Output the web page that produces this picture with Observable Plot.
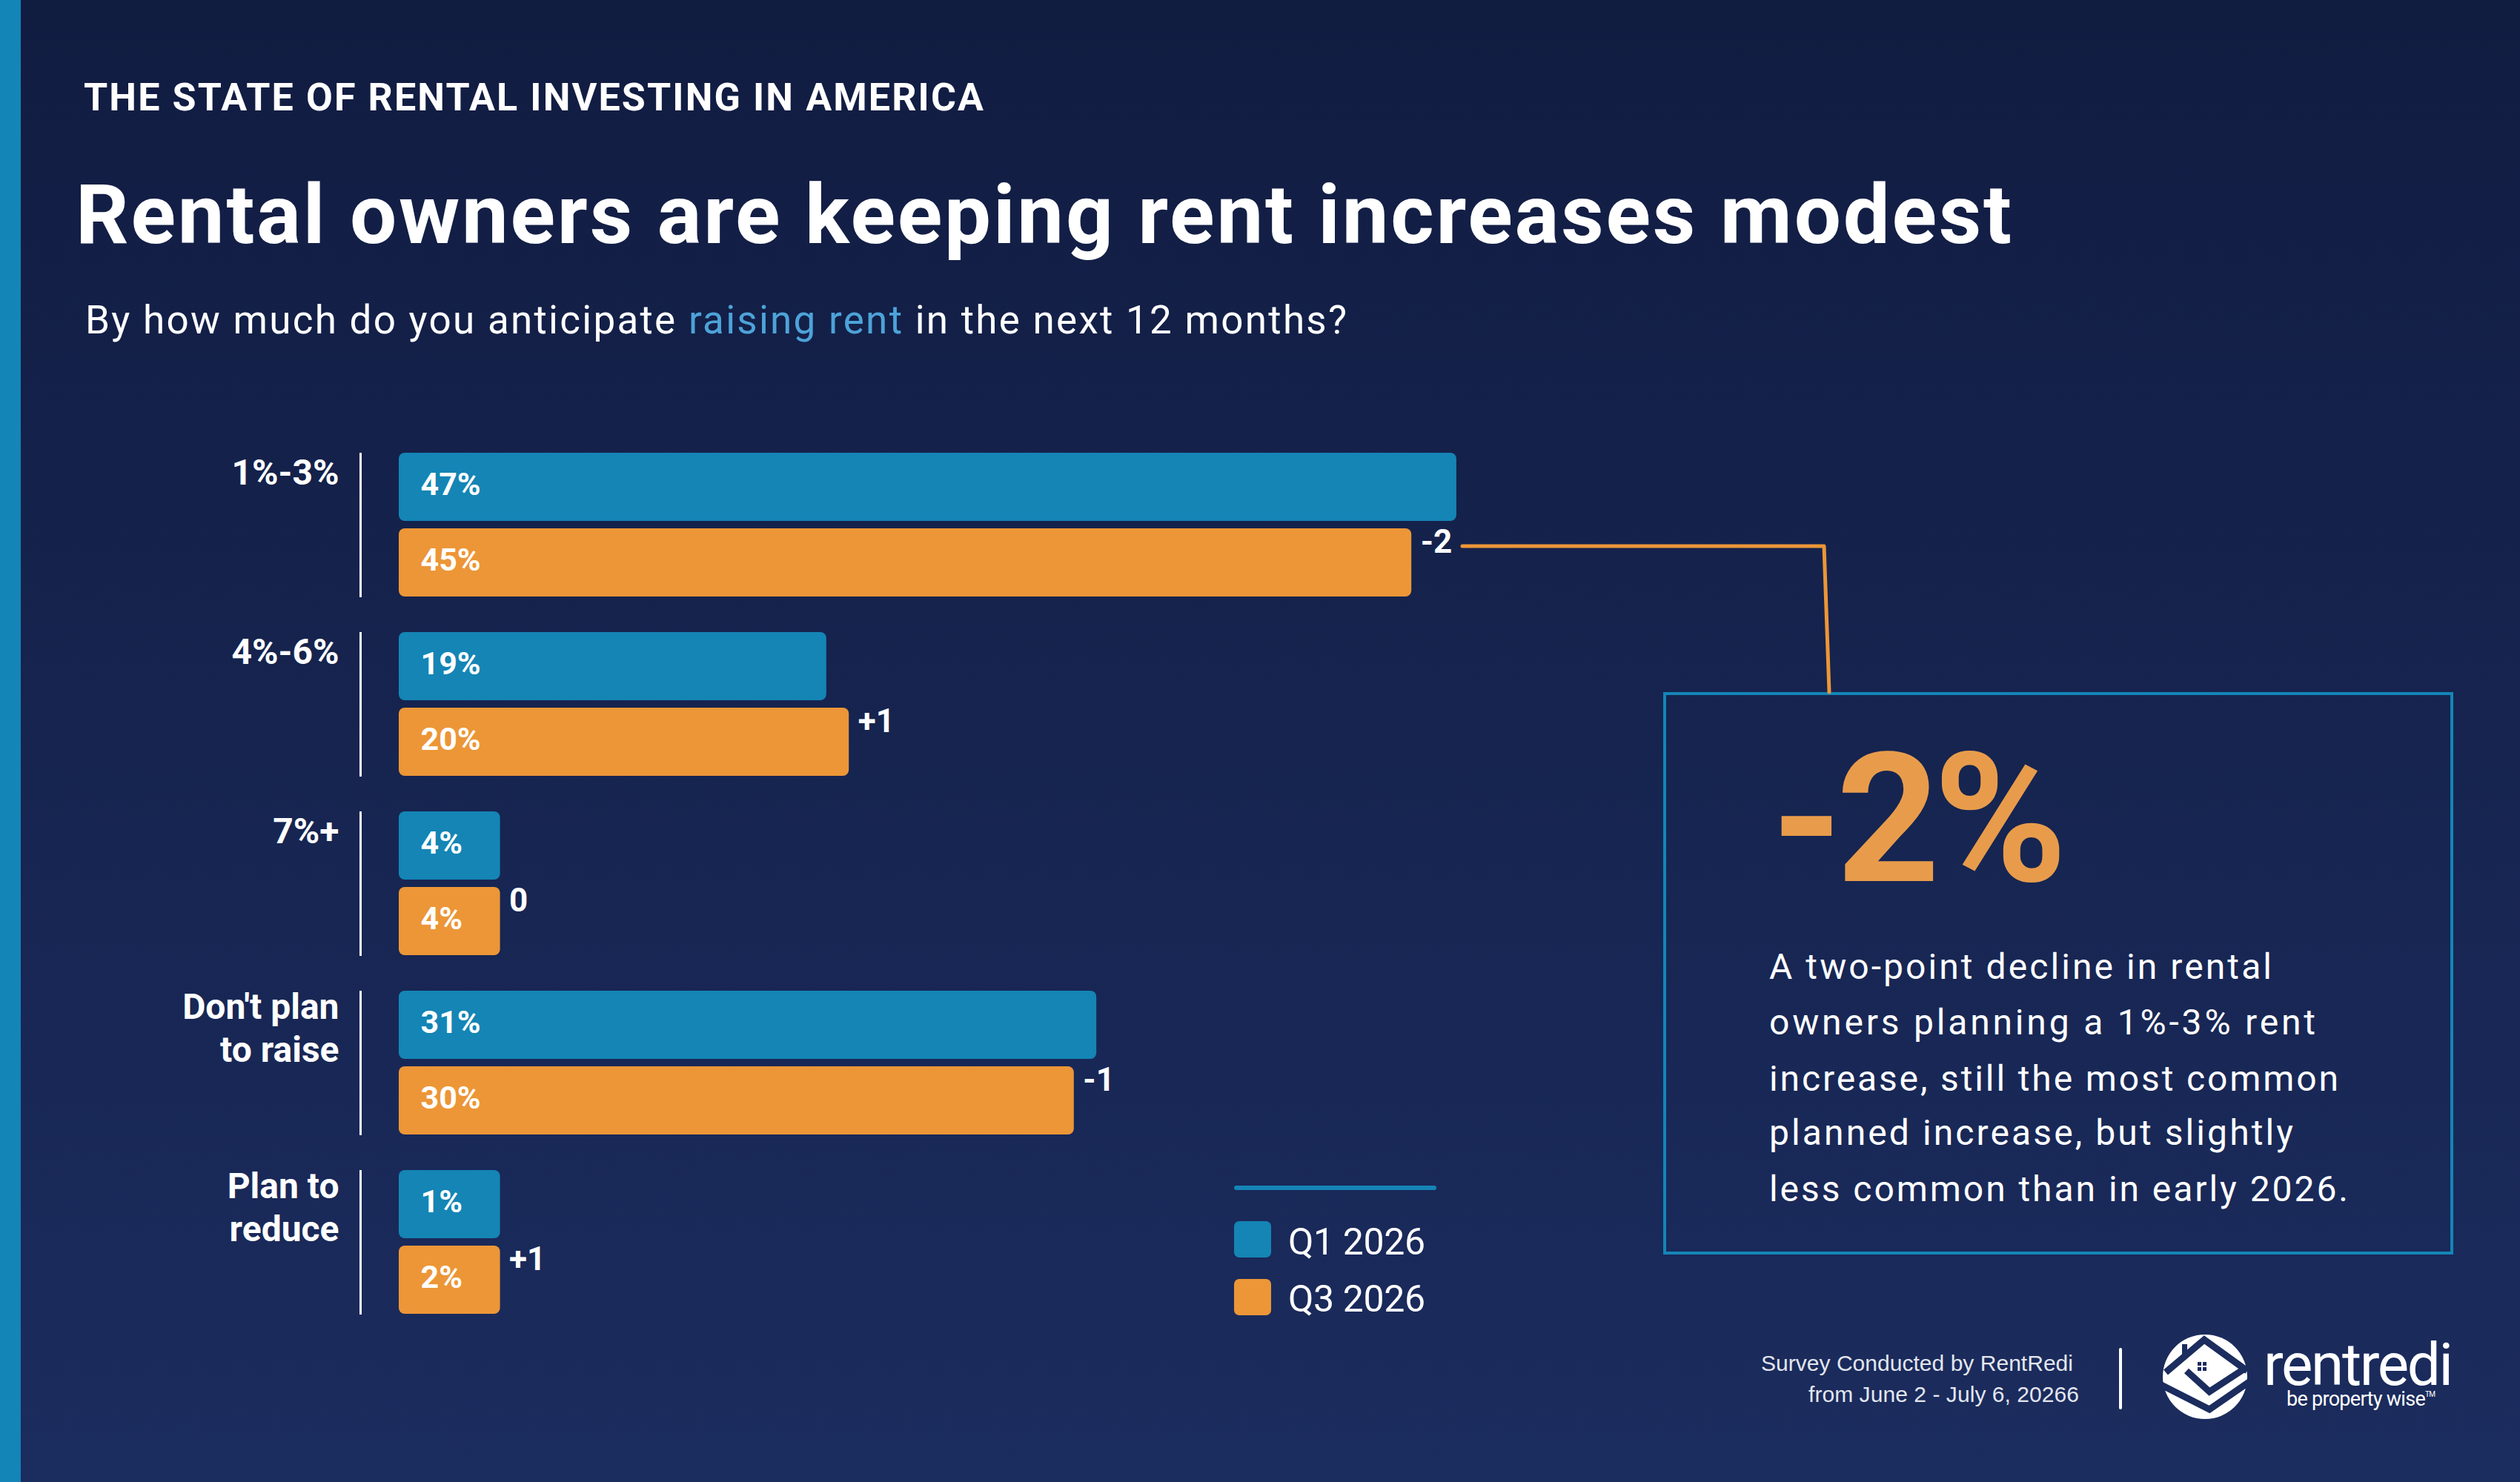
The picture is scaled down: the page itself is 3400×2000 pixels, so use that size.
<!DOCTYPE html>
<html><head><meta charset="utf-8">
<script src="https://cdn.jsdelivr.net/npm/d3@7"></script>
<script src="https://cdn.jsdelivr.net/npm/@observablehq/plot@0.6"></script>
<style>
html,body{margin:0;padding:0;background:#111c41;}
body{width:3400px;height:2000px;overflow:hidden;}
#page{position:relative;width:3400px;height:2000px;background:linear-gradient(180deg,#111c41 0%,#1b2c5e 100%);font-family:Roboto,sans-serif;color:#fff;overflow:hidden;}
.t{position:absolute;white-space:nowrap;}
</style></head>
<body><div id="page"></div>
<script>
// ---------- data ----------
const categories = ["1%-3%", "4%-6%", "7%+", "Don't plan\nto raise", "Plan to\nreduce"];
const series = ["Q1 2026", "Q3 2026"];
const q1Values = [47, 19, 4, 31, 1];
const q3Values = [45, 20, 4, 30, 2];
const seriesColors = ["#1485b5", "#ec9637"];
const kicker = "THE STATE OF RENTAL INVESTING IN AMERICA";
const titleText = "Rental owners are keeping rent increases modest";
const subtitleParts = ["By how much do you anticipate ", "raising rent", " in the next 12 months?"];
const calloutValue = "-2%";
const calloutLines = ["A two-point decline in rental", "owners planning a 1%-3% rent", "increase, still the most common", "planned increase, but slightly", "less common than in early 2026."];
const sourceLines = ["Survey Conducted by RentRedi", "from June 2 - July 6, 20266"];

const MIN_BAR = 4.5; // minimum drawn length (in % units) so labels fit

const data = [];
categories.forEach((c, i) => {
  data.push({category: c, series: series[0], value: q1Values[i]});
  data.push({category: c, series: series[1], value: q3Values[i]});
});
const deltas = categories.map((c, i) => ({category: c, series: series[1], value: q3Values[i], delta: q3Values[i] - q1Values[i]}));
const fmtDelta = d => d > 0 ? `+${d}` : `${d}`;
const barEnd = d => Math.max(d.value, MIN_BAR);
const singleLine = categories.filter(c => !c.includes("\n")).map(c => ({category: c}));
const multiLine = categories.filter(c => c.includes("\n")).map(c => ({category: c}));

// ---------- page ----------
const page = document.getElementById("page");
function el(tag, css, parent = page) {
  const e = document.createElement(tag);
  Object.assign(e.style, css);
  parent.appendChild(e);
  return e;
}
function addText(str, o) {
  const e = document.createElement("div");
  e.className = "t";
  if (o.html) e.innerHTML = o.html; else e.textContent = str;
  const lh = o.lh || 1;
  const asc = o.family ? ((lh - 1.117) / 2 + 0.905) : ((lh - 1.1719) / 2 + 0.9277);
  e.style.lineHeight = lh;
  e.style.fontSize = o.fs + "px";
  e.style.fontWeight = o.weight || 400;
  e.style.color = o.color || "#fff";
  if (o.family) e.style.fontFamily = o.family;
  e.style.top = (o.baseline - asc * o.fs) + "px";
  page.appendChild(e);
  let ls = 0;
  if (o.width) {
    const w = e.getBoundingClientRect().width;
    const n = e.textContent.length;
    ls = (o.width - w) / (n - 1);
    e.style.letterSpacing = ls + "px";
  }
  if (o.anchor === "end") e.style.right = (3400 - o.x - ls) + "px";
  else e.style.left = o.x + "px";
  return e;
}

// left accent stripe
el("div", {position: "absolute", left: "0px", top: "0px", width: "28px", height: "2000px", background: "#1485b7"});

addText(kicker, {x: 113, baseline: 150, fs: 52, weight: 700, width: 1214});
addText(titleText, {x: 102, baseline: 328, fs: 112, weight: 700, width: 2612});
addText(null, {x: 115, baseline: 451, fs: 53, weight: 400, width: 1702,
  html: `${subtitleParts[0]}<span style="color:#4da3d9">${subtitleParts[1]}</span>${subtitleParts[2]}`});

// ---------- chart ----------
const labelStyle = {fy: "category", text: "category", frameAnchor: "top-left", dx: -81, textAnchor: "end",
  lineAnchor: "top", fontSize: 48, fontWeight: 700, lineHeight: 1.2, fill: "white"};
const chart = Plot.plot({
  width: 2100,
  height: 1247,
  marginTop: 49,
  marginBottom: 30,
  marginLeft: 538,
  marginRight: 2100 - 538 - 1518,
  style: {background: "transparent", fontFamily: "Roboto", overflow: "visible"},
  x: {domain: [0, 50], axis: null},
  y: {domain: series, axis: null, paddingInner: 10 / 103, paddingOuter: 0},
  fy: {domain: categories, axis: null, paddingInner: 47 / 243, paddingOuter: 0},
  color: {domain: series, range: seriesColors},
  marks: [
    Plot.ruleX([0], {dx: -52, stroke: "white", strokeWidth: 3}),
    Plot.barX(data, {fy: "category", y: "series", x1: 0, x2: barEnd, fill: "series", rx: 8}),
    Plot.text(data, {fy: "category", y: "series", x: 0, text: d => `${d.value}%`, dx: 29, dy: -3,
      textAnchor: "start", fill: "white", fontSize: 43, fontWeight: 700}),
    Plot.text(deltas, {fy: "category", y: "series", x: barEnd, text: d => fmtDelta(d.delta), dx: 12, dy: -28,
      textAnchor: "start", fill: "white", fontSize: 44, fontWeight: 700}),
    Plot.text(singleLine, {...labelStyle, dy: 2}),
    Plot.text(multiLine, {...labelStyle, dy: -3})
  ]
});
chart.style.position = "absolute";
chart.style.left = "0px";
chart.style.top = "560px";
page.appendChild(chart);

// ---------- legend ----------
el("div", {position: "absolute", left: "1665px", top: "1600px", width: "273px", height: "6px", borderRadius: "3px", background: seriesColors[0]});
series.forEach((s, i) => {
  el("div", {position: "absolute", left: "1665px", top: (1648 + i * 78) + "px", width: "50px", height: "49px", borderRadius: "7px", background: seriesColors[i]});
  addText(s, {x: 1738, baseline: 1693 + i * 77, fs: 50, weight: 400, width: 185});
});

// ---------- callout ----------
el("div", {position: "absolute", left: "2244px", top: "934px", width: "1066px", height: "759px", boxSizing: "border-box", border: "4px solid #1485b7"});
addText(calloutValue, {x: 2390, baseline: 1190, fs: 244, weight: 700, color: "#e89c4b", width: 399, lh: 0.9});
const lineBase = [1321, 1396, 1472, 1545, 1621];
const lineW = [678, 737, 768, 707, 781];
calloutLines.forEach((l, i) => addText(l, {x: 2387, baseline: lineBase[i], fs: 48, weight: 400, width: lineW[i]}));

// connector + logo (decorative)
const NS = "http://www.w3.org/2000/svg";
const ov = document.createElementNS(NS, "svg");
ov.setAttribute("width", 3400); ov.setAttribute("height", 2000);
ov.style.position = "absolute"; ov.style.left = "0px"; ov.style.top = "0px"; ov.style.pointerEvents = "none";
ov.innerHTML = `
<path d="M1973,737 L2461,737 L2468,934" fill="none" stroke="#ec9637" stroke-width="5" stroke-linecap="round" stroke-linejoin="round"/>
<g>
  <circle cx="2975" cy="1858" r="57" fill="#fff"/>
  <path d="M2922,1852 L2974,1808 L3032,1850" fill="none" stroke="#1b2c5e" stroke-width="9" stroke-linejoin="miter"/>
  <path d="M2950,1850 L2981,1878 L3030,1846" fill="none" stroke="#1b2c5e" stroke-width="9"/>
  <path d="M2914,1868 L2981,1902 L3036,1864" fill="none" stroke="#1b2c5e" stroke-width="9"/>
  <rect x="2944" y="1814" width="7" height="14" fill="#1b2c5e"/>
  <rect x="2965" y="1838" width="5" height="5" fill="#1b2c5e"/>
  <rect x="2972" y="1838" width="5" height="5" fill="#1b2c5e"/>
  <rect x="2965" y="1845" width="5" height="5" fill="#1b2c5e"/>
  <rect x="2972" y="1845" width="5" height="5" fill="#1b2c5e"/>
</g>`;
page.appendChild(ov);

// ---------- footer ----------
const footFont = "'Liberation Sans', Arial, sans-serif";
addText(sourceLines[0], {x: 2797, baseline: 1850, fs: 30, family: footFont, anchor: "end", width: 421, color: "#e3e6ee", lh: 0.9});
addText(sourceLines[1], {x: 2805, baseline: 1892, fs: 30, family: footFont, anchor: "end", width: 365, color: "#e3e6ee", lh: 0.9});
el("div", {position: "absolute", left: "2859px", top: "1819px", width: "4px", height: "83px", borderRadius: "2px", background: "#fff"});
addText("rentredi", {x: 3054, baseline: 1870, fs: 80, weight: 400, width: 256, lh: 0.72});
addText(null, {x: 3085, baseline: 1898, fs: 27, weight: 400, width: 201, lh: 0.8,
  html: `be property wise<span style="font-size:10px;vertical-align:12px">TM</span>`});
</script>
</body></html>
